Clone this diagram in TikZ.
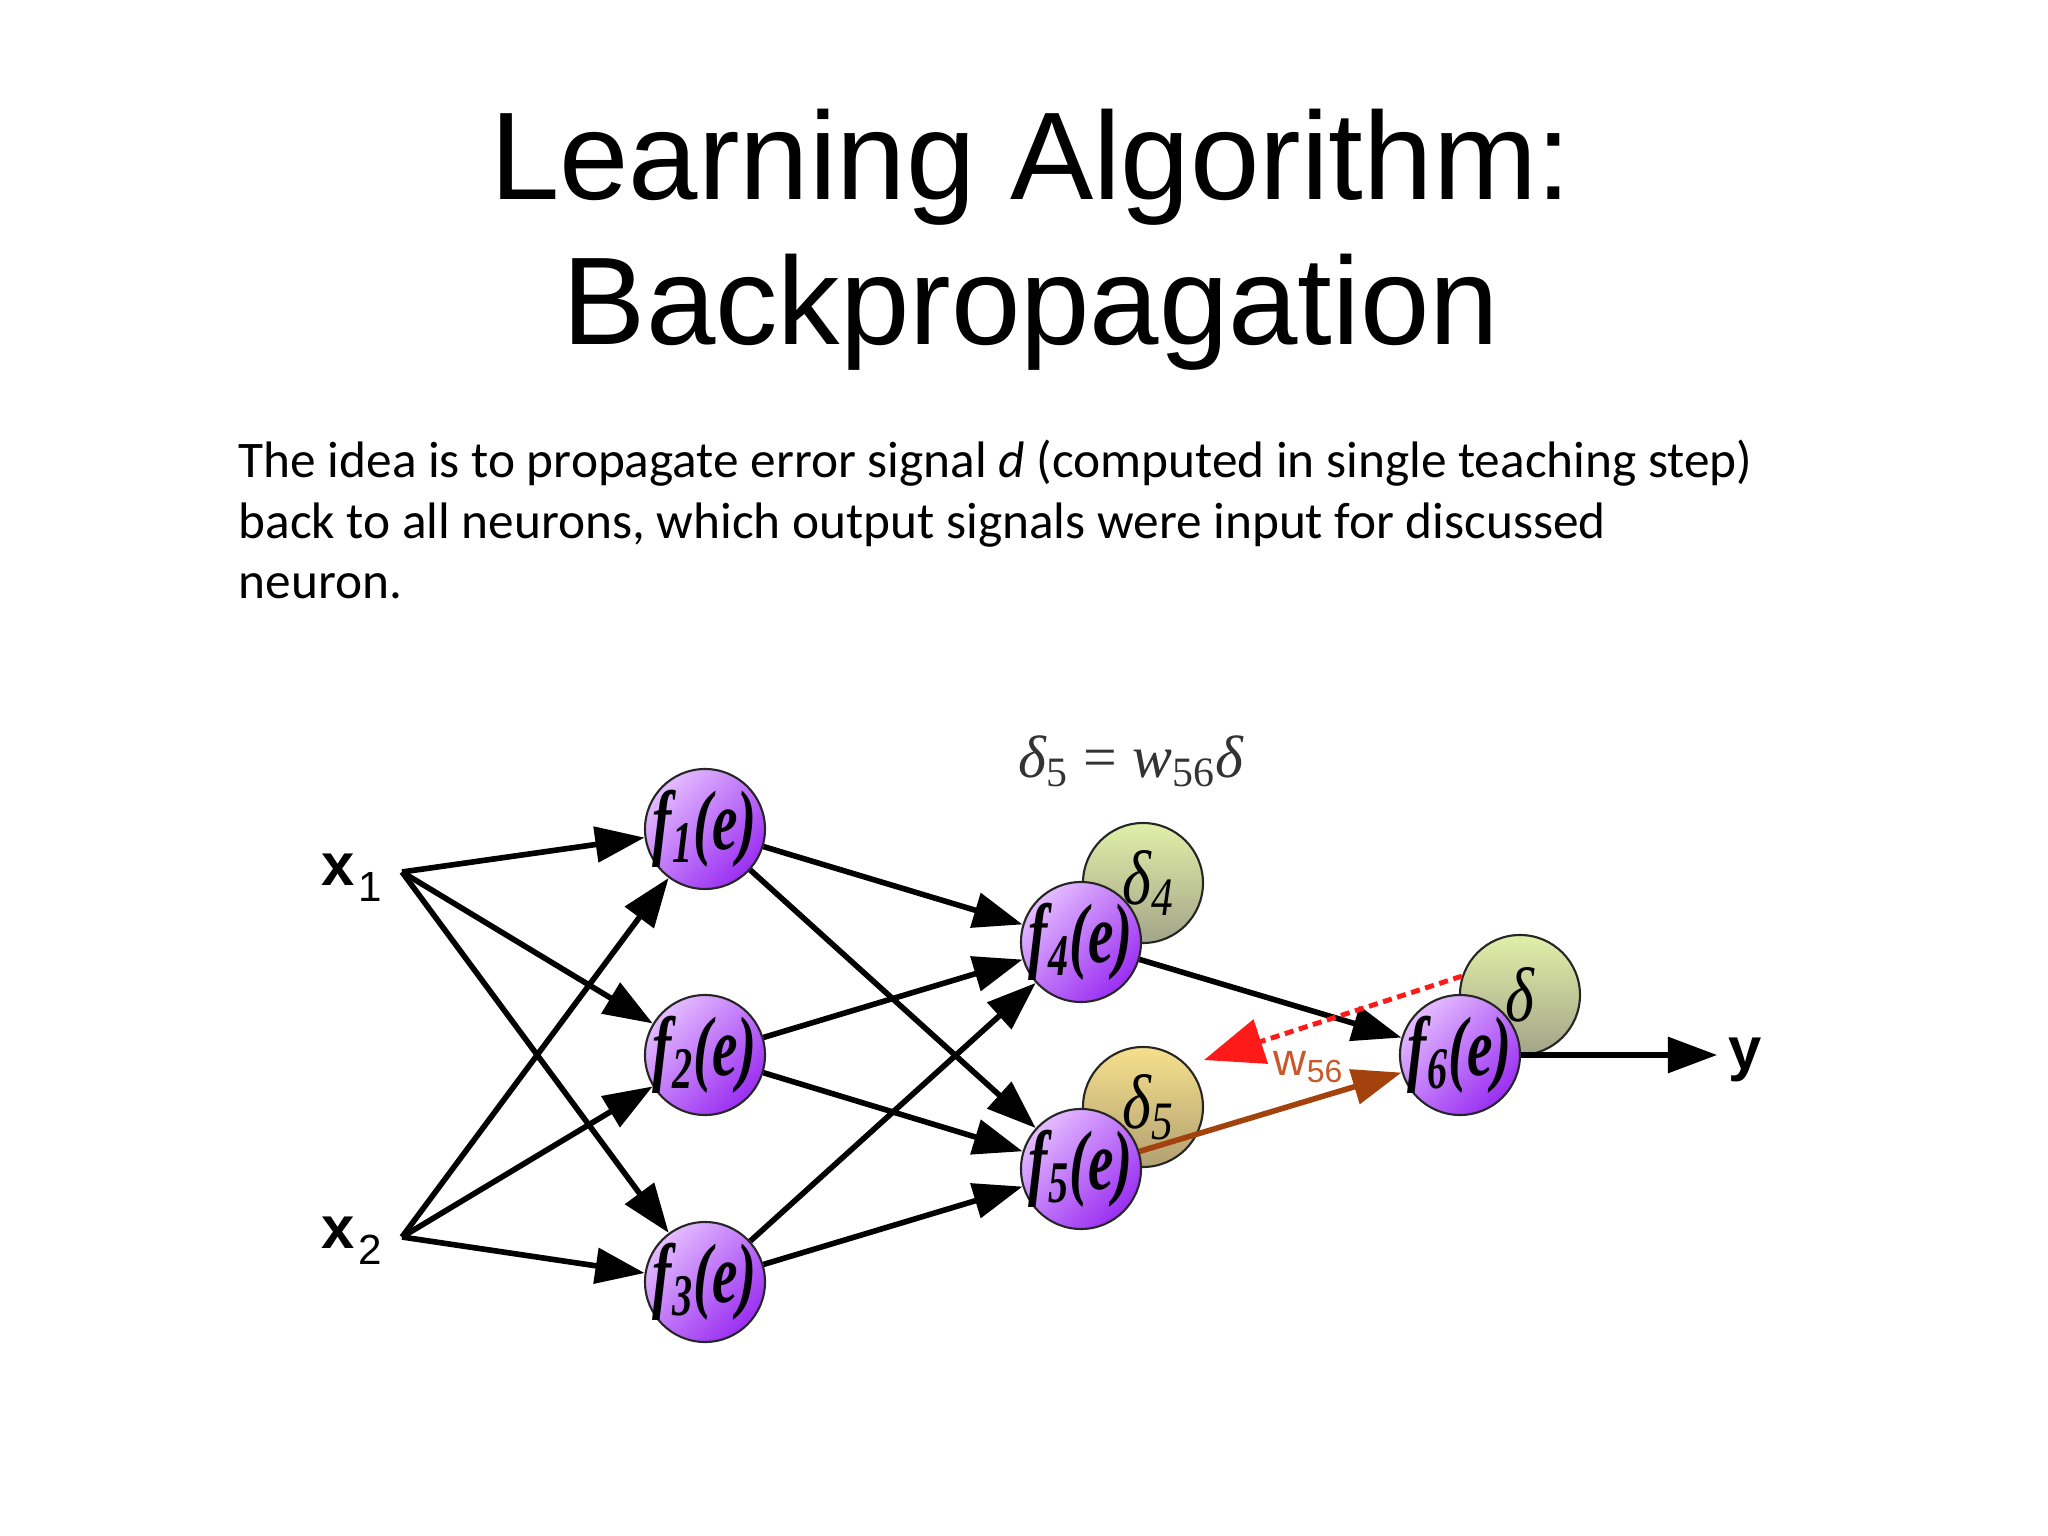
\documentclass[tikz,border=0pt]{standalone}
\definecolor{nnPurpleLight}{HTML}{E4BCFF}
\definecolor{nnPurple}{HTML}{9A2EF2}
\definecolor{nnGreenLight}{HTML}{E2EFA8}
\definecolor{nnGreen}{HTML}{A2A488}
\definecolor{nnYellowLight}{HTML}{F6E08C}
\definecolor{nnYellow}{HTML}{B2A072}
\definecolor{nnBrown}{HTML}{A3420C}
\definecolor{nnRed}{HTML}{FF1A1A}
\definecolor{nnWeight}{HTML}{C9582A}
\usepackage{fontspec}
\setmainfont{Liberation Sans}
\newfontfamily\bodyfont{Carlito}
\newfontfamily\neuronfont{Liberation Serif}
\usepackage{graphicx}
\usetikzlibrary{arrows.meta, positioning, shapes.geometric}
\newcommand{\neuronlabel}[1]{\scalebox{0.68}[1]{\bfseries\itshape f\textsubscript{#1}(e)}}
\newcommand{\errlabel}[1]{\kern3pt\scalebox{0.8}[1]{\itshape δ\textsubscript{#1}}}
\newcommand{\inputlabel}[1]{\textbf{x}\kern1pt\raisebox{-4.5pt}{\fontsize{12}{12}\selectfont #1}}

\begin{document}
\begin{tikzpicture}[
  neuron/.style={circle, draw=black!85, line width=0.6pt, minimum size=1.2cm,
    inner sep=-4pt, top color=nnPurpleLight, bottom color=nnPurple,
    shading angle=45, font=\neuronfont\fontsize{24}{24}\selectfont},
  errnode/.style={circle, draw=black!85, line width=0.6pt, minimum size=1.2cm,
    inner sep=-4pt, shading angle=45, font=\neuronfont\fontsize{22}{22}\selectfont},
  link/.style={-{Triangle[length=14pt, width=10pt]}, line width=1.6pt},
  backprop/.style={nnRed, line width=1.4pt, dash pattern=on 2.6pt off 1.6pt,
    -{Triangle[length=17pt, width=13pt]}},
  inlabel/.style={font=\fontsize{17}{17}\selectfont, inner sep=3pt}]

  \useasboundingbox (0,0) rectangle (20.48,-15.36);

  \node[anchor=north, align=center, inner sep=0pt,
    font=\fontsize{35.5}{41.5}\selectfont] (title) at (10.31,-1.08)
    {Learning Algorithm:\\Backpropagation};
  \node[anchor=north west, align=left, inner sep=0pt,
    font=\bodyfont\fontsize{14.6}{17.3}\selectfont] (idea) at (2.38,-4.39)
    {The idea is to propagate error signal \textit{d} (computed in single teaching step)\\
     back to all neurons, which output signals were input for discussed\\
     neuron.};

  \node[errnode, top color=nnGreenLight, bottom color=nnGreen] (d4) at (11.43,-8.83) {\errlabel{4}};
  \node[errnode, top color=nnYellowLight, bottom color=nnYellow] (d5) at (11.43,-11.07) {\errlabel{5}};
  \node[errnode, top color=nnGreenLight, bottom color=nnGreen] (d) at (15.20,-9.95) {\scalebox{0.8}[1]{\itshape δ}};

  \node[neuron] (f1) at (7.05,-8.29) {\neuronlabel{1}};
  \node[neuron] (f2) at (7.05,-10.55) {\neuronlabel{2}};
  \node[neuron] (f3) at (7.05,-12.82) {\neuronlabel{3}};
  \node[neuron] (f4) at (10.81,-9.42) {\neuronlabel{4}};
  \node[neuron] (f5) at (10.81,-11.69) {\neuronlabel{5}};
  \node[neuron] (f6) at (14.60,-10.55) {\neuronlabel{6}};

  \node[inlabel] (x1) at (3.52,-8.78) {\inputlabel{1}};
  \node[inlabel] (x2) at (3.52,-12.41) {\inputlabel{2}};
  \coordinate (s1) at (4.02,-8.72);
  \coordinate (s2) at (4.02,-12.37);
  \node[inlabel, font=\fontsize{17}{17}\selectfont\bfseries] (y) at (17.45,-10.60) {y};

  \node[text=black!80, font=\neuronfont\fontsize{17}{17}\selectfont] (rule) at (11.31,-7.61)
    {\itshape δ\textsubscript{\upshape 5} \upshape= \itshape w\textsubscript{\upshape 56}δ};
  \node[text=nnWeight, font=\fontsize{13}{13}\selectfont] (w56) at (13.09,-10.67) {w\textsubscript{56}};

  \foreach \s in {s1,s2}
    \foreach \t in {f1,f2,f3}
      \draw[link] (\s) -- (\t);
  \foreach \s in {f1,f2,f3}
    \foreach \t in {f4,f5}
      \draw[link] (\s) -- (\t);
  \draw[link] (f4) -- (f6);
  \draw[link, nnBrown] (f5) -- (f6);
  \draw[link] (f6) -- (f6 -| y.west);

  \coordinate (back) at (12.04,-10.60);
  \draw[backprop] (d.162) -- (back);
\end{tikzpicture}
\end{document}
